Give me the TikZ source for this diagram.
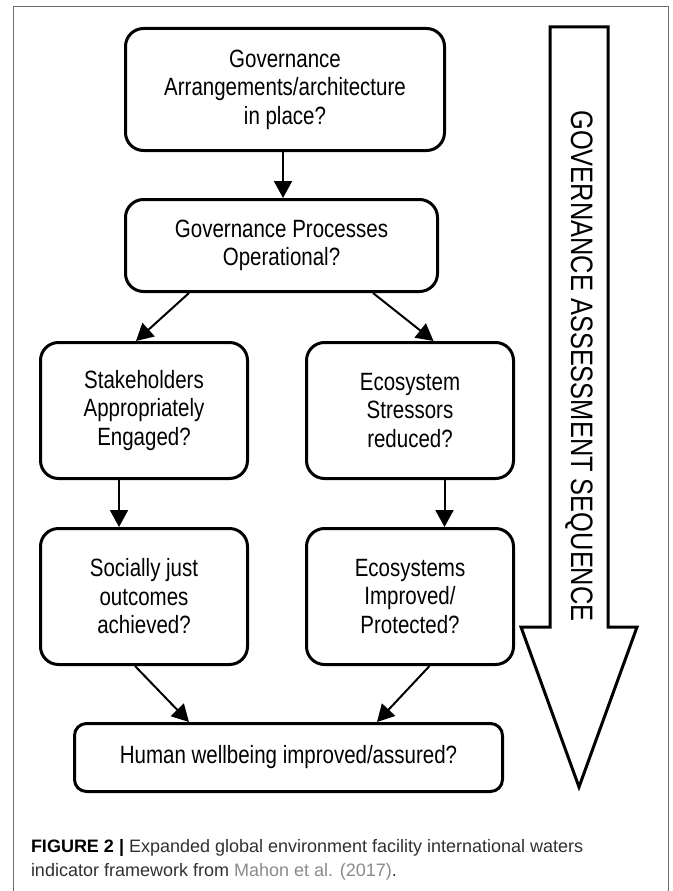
\documentclass[tikz,border=0pt]{standalone}
\usepackage{fontspec}
\setmainfont{Liberation Sans}
\newfontfamily\narrowsans[FakeStretch=0.82]{Liberation Sans}
\usetikzlibrary{arrows.meta,positioning}
\definecolor{framegray}{HTML}{6E6E6E}
\definecolor{captext}{HTML}{303030}
\definecolor{citegray}{HTML}{8A8A8A}
\tikzstyle{question} = [rectangle,
                       rounded corners=18pt,
                       align=center,
                       draw=black,
                       line width=3pt,
                       inner sep=0pt,
                       font=\narrowsans\fontsize{25}{28.5}\selectfont]
\tikzstyle{flow} = [x=1pt, y=-1pt,
                   >={Triangle[length=17pt,width=18pt]},
                   line width=2pt]

\begin{document}
\begin{tikzpicture}[flow]
    \useasboundingbox (0,0) rectangle (672,891);
    \draw[framegray, line width=1pt] (13,891) -- (13,7) -- (668,7) -- (668,891);
    \node (0) [question, minimum width=319pt, minimum height=122pt] at (285,89.5) {Governance\\Arrangements/architecture\\in place?};
    \node (1) [question, minimum width=312pt, minimum height=92pt, below=46pt of 0.south west, anchor=north west] {Governance Processes\\Operational?};
    \node (2) [question, minimum width=207pt, minimum height=136pt] at (144,410.5) {Stakeholders\\Appropriately\\Engaged?};
    \node (3) [question, minimum width=207pt, minimum height=136pt, right=56pt of 2] {Ecosystem\\Stressors\\reduced?};
    \node (4) [question, minimum width=207pt, minimum height=136pt, below=47pt of 2] {Socially just\\outcomes\\achieved?};
    \node (5) [question, minimum width=207pt, minimum height=136pt, below=47pt of 3] {Ecosystems\\Improved/\\Protected?};
    \node (6) [question, rounded corners=12pt, minimum width=428pt, minimum height=68pt] at (288.5,757.5) {Human wellbeing improved/assured?};
    % assessment sequence arrow
    \draw[line width=3pt, line join=miter] (550,27) -- (608,27) -- (608,627) -- (637,627) -- (579,787) -- (521,627) -- (550,627) -- cycle;
    \node (7) [rotate=-90, font=\narrowsans\fontsize{31}{36}\selectfont] at (579,366) {GOVERNANCE ASSESSMENT SEQUENCE};
    \path[->]
      ([xshift=-2pt]0.south) edge ([xshift=-2pt]0.south |- 1.north)
      ([xshift=-92.5pt]1.south) edge ([xshift=-8pt]2.north)
      ([xshift=91.5pt]1.south) edge ([xshift=23.5pt]3.north)
      ([xshift=-25pt]2.south) edge ([xshift=-25pt]4.north)
      ([xshift=34.5pt]3.south) edge ([xshift=34.5pt]5.north)
      ([xshift=-9pt]4.south) edge ([xshift=-99.5pt]6.north)
      ([xshift=19.5pt]5.south) edge ([xshift=88.5pt]6.north);
    \node (8) [anchor=north west, align=left, inner sep=0pt, text=captext,
               font=\fontsize{18}{24}\selectfont] at (30,838)
      {\textcolor{black}{\textbf{FIGURE 2 |}} Expanded global environment facility international waters\\indicator framework from \textcolor{citegray}{Mahon et al. (2017)}.};
\end{tikzpicture}
\end{document}
